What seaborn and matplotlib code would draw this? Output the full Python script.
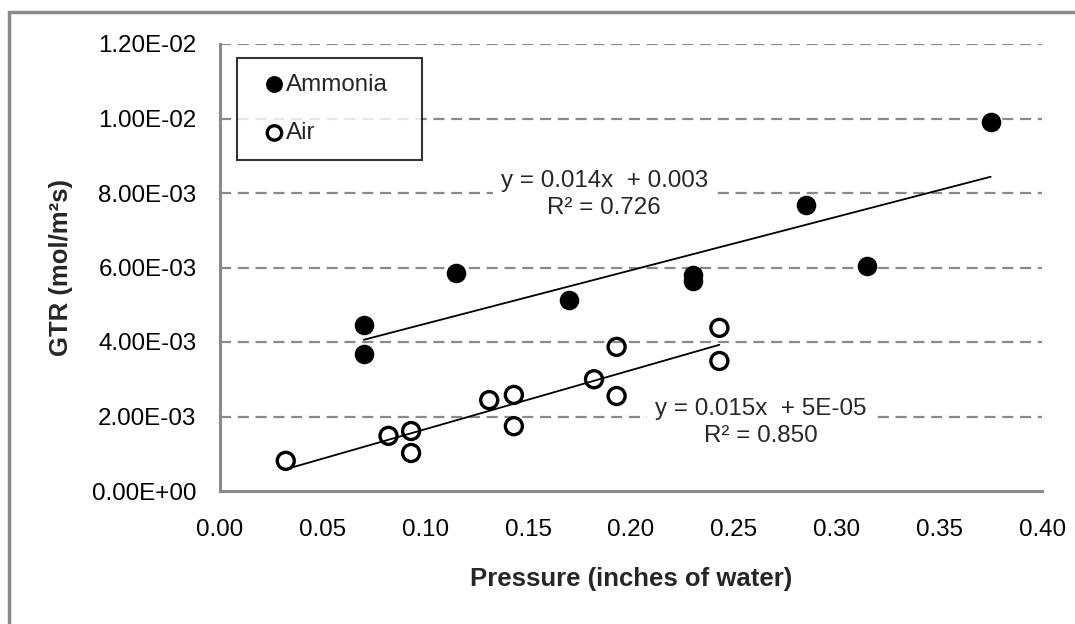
import matplotlib
matplotlib.use("Agg")
import matplotlib.pyplot as plt
import seaborn as sns
import numpy as np
from matplotlib.patches import Rectangle
from matplotlib.ticker import FuncFormatter, FixedLocator

# ---- data ----
ammonia_x = [0.070, 0.070, 0.115, 0.170, 0.230, 0.230, 0.285, 0.315, 0.375]
ammonia_y = [0.00446, 0.00368, 0.00585, 0.00513, 0.00580, 0.00564, 0.00768, 0.00604, 0.00991]
air_x = [0.032, 0.082, 0.093, 0.093, 0.131, 0.143, 0.143, 0.182, 0.193, 0.193, 0.243, 0.243]
air_y = [0.00081, 0.00148, 0.00161, 0.00102, 0.00244, 0.00258, 0.00174, 0.00300, 0.00387, 0.00255, 0.00438, 0.00349]
x_ticks = [0.00, 0.05, 0.10, 0.15, 0.20, 0.25, 0.30, 0.35, 0.40]
y_ticks = [0.0, 0.002, 0.004, 0.006, 0.008, 0.010, 0.012]
ammonia_eq = "y = 0.014x  + 0.003\nR² = 0.726"
air_eq = "y = 0.015x  + 5E-05\nR² = 0.850"

sns.set_style("white")
plt.rcParams['font.family'] = ['Liberation Sans', 'DejaVu Sans']

fig = plt.figure(figsize=(10.75, 6.24), dpi=100)
ax = fig.add_axes([220/1075, 1-491/624, 822/1075, 447/624])

FS = 17.4
grey = '#8a8a8a'

# trend lines
sns.regplot(x=ammonia_x, y=ammonia_y, ax=ax, ci=None, scatter=False, truncate=True,
            line_kws=dict(color='black', lw=1.3))
sns.regplot(x=air_x, y=air_y, ax=ax, ci=None, scatter=False, truncate=True,
            line_kws=dict(color='black', lw=1.3))

sns.scatterplot(x=ammonia_x, y=ammonia_y, ax=ax, marker='o', color='black',
                edgecolor='black', s=170, label='Ammonia', zorder=4)
sns.scatterplot(x=air_x, y=air_y, ax=ax, marker='o', facecolor='none',
                edgecolor='black', linewidth=2.4, s=150, label='Air', zorder=4)

ax.set_xlim(0, 0.40)
ax.set_ylim(0, 0.012)
ax.xaxis.set_major_locator(FixedLocator(x_ticks))
ax.yaxis.set_major_locator(FixedLocator(y_ticks))
ax.xaxis.set_major_formatter(FuncFormatter(lambda v, p: f"{v:.2f}"))
ax.yaxis.set_major_formatter(FuncFormatter(lambda v, p: f"{v:.2E}"))

for v in y_ticks[1:]:
    ax.axhline(v, color=grey, lw=1.6, ls=(0, (5, 3)), zorder=0)

for s in ['top', 'right']:
    ax.spines[s].set_visible(False)
for s in ['left', 'bottom']:
    ax.spines[s].set_color(grey)
    ax.spines[s].set_linewidth(2.2)
ax.tick_params(axis='both', direction='out', length=4, width=2, color=grey,
               labelsize=FS, labelcolor='black')
ax.tick_params(axis='x', pad=16)
ax.tick_params(axis='y', pad=13)

ax.set_xlabel("Pressure (inches of water)", fontsize=18.5, fontweight='bold', labelpad=19)
ax.set_ylabel("GTR (mol/m²s)", fontsize=18.5, fontweight='bold', labelpad=14)

box = dict(facecolor='white', edgecolor='none', pad=6)
ax.text(0.187, 0.00795, ammonia_eq, ha='center', va='center', fontsize=FS,
        multialignment='center', linespacing=1.3, bbox=box, zorder=2)
ax.text(0.2633, 0.00185, air_eq, ha='center', va='center', fontsize=FS,
        multialignment='center', linespacing=1.3, bbox=box, zorder=2)

leg = ax.legend(loc='upper left', bbox_to_anchor=(17/822, 1-14/447, 185/822, 0.0),
                mode='expand', frameon=True, fancybox=False, fontsize=FS,
                handlelength=1.8, handletextpad=-0.42, borderpad=0.65,
                labelspacing=1.1, borderaxespad=0, markerscale=0.85)
leg.get_frame().set_edgecolor('black')
leg.get_frame().set_linewidth(1.5)

# outer chart border
fig.patches.append(Rectangle((9/1075, -0.5), 2.0, 0.5 + 1 - 12/624, transform=fig.transFigure,
                             fill=False, edgecolor=grey, lw=2.5))

fig.savefig("out.png", dpi=100)
